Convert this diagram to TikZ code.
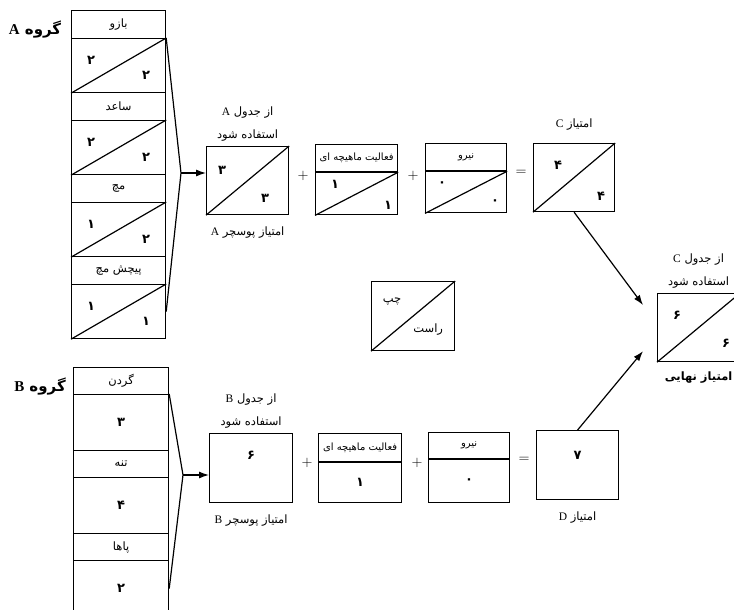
\documentclass[tikz,border=0pt]{standalone}
\usepackage{fontspec}
\setmainfont{Liberation Serif}
\newfontfamily\fa[Script=Arabic]{DejaVu Sans}
\TeXXeTstate=1
\usetikzlibrary{positioning,arrows.meta}
\newcommand{\rtl}[1]{\beginR #1\endR}
\newcommand{\lat}[1]{{\rmfamily #1}}

\begin{document}
\begin{tikzpicture}[x=1pt,y=-1pt,line width=1.2pt,
    every node/.style={font=\fa\fontsize{11.5}{13}\selectfont,inner sep=1pt},
    box/.style={draw,rectangle,inner sep=0pt,anchor=north west,minimum width=#1},
    box/.default=82pt,
    num/.style={font=\fa\bfseries\fontsize{13}{15}\selectfont},
    small/.style={font=\fa\fontsize{10}{12}\selectfont},
    big/.style={font=\fa\bfseries\fontsize{15}{17}\selectfont},
    op/.style={font=\fontsize{15}{17}\selectfont},
    arr/.style={-{Latex[length=10pt,width=7pt]}}]
  \clip (0,0) rectangle (734,610);

  \node[big] (grpA) at (35,30) {\rtl{گروه \lat{A}}};
  \foreach \part/\ul/\lr [count=\i from 0] in {بازو/۲/۲,ساعد/۲/۲,مچ/۱/۲,پیچش مچ/۱/۱}{
    \node[box=94pt,minimum height=28pt] (a\i) at (71,10+82*\i) {\rtl{\part}};
    \node[box=94pt,minimum height=54pt] (as\i) at (71,38+82*\i) {};
    \draw (as\i.south west) -- (as\i.north east);
    \node[num] (au\i) at ([shift={(20pt,-22pt)}]as\i.north west) {\ul};
    \node[num] (al\i) at ([shift={(-20pt,18pt)}]as\i.south east) {\lr};
  }
  \coordinate (tipA) at (181,173);
  \draw (as0.north east) -- (tipA) -- (as3.east);

  \node[box,minimum height=68pt] (sA) at (206,146) {};
  \draw (sA.south west) -- (sA.north east);
  \node[num] (sAu) at ([shift={(16pt,-24pt)}]sA.north west) {۳};
  \node[num] (sAl) at ([shift={(-24pt,17pt)}]sA.south east) {۳};
  \node[above=3pt of sA] (useA) {\rtl{استفاده شود}};
  \node[above=8pt of useA] (tabA) {\rtl{از جدول \lat{A}}};
  \node[below=10pt of sA] (scA) {\rtl{امتیاز پوسچر \lat{A}}};
  \draw[arr] (tipA) -- (tipA -| sA.west);

  \node[op] (p1) at (303,176) {$+$};
  \node[box,minimum height=27pt,small] (mA) at (315,144) {\rtl{فعالیت ماهیچه ای}};
  \node[box,minimum height=42pt,anchor=north] (mAv) at (mA.south) {};
  \draw (mAv.south west) -- (mAv.north east);
  \node[num] (mAu) at ([shift={(20pt,-12pt)}]mAv.north west) {۱};
  \node[num] (mAl) at ([shift={(-10pt,10pt)}]mAv.south east) {۱};

  \node[op] (p2) at (413,176) {$+$};
  \node[box=81pt,minimum height=27pt,small] (fA) at (425,143) {نیرو};
  \node[box=81pt,minimum height=41pt,anchor=north] (fAv) at (fA.south) {};
  \draw (fAv.south west) -- (fAv.north east);
  \node[num] (fAu) at ([shift={(17pt,-13pt)}]fAv.north west) {۰};
  \node[num] (fAl) at ([shift={(-12pt,11pt)}]fAv.south east) {۰};

  \node[op] (e1) at (521,173) {$=$};
  \node[box=81pt,minimum height=68pt] (sC) at (533,143) {};
  \draw (sC.south west) -- (sC.north east);
  \node[num] (sCu) at ([shift={(25pt,-22pt)}]sC.north west) {۴};
  \node[num] (sCl) at ([shift={(-14pt,16pt)}]sC.south east) {۴};
  \node[above=11pt of sC] (scC) {\rtl{امتیاز \lat{C}}};

  \node[box,minimum height=68pt] (fin) at (657,293) {};
  \draw (fin.south west) -- (fin.north east);
  \node[num] (finu) at ([shift={(20pt,-22pt)}]fin.north west) {۶};
  \node[num] (finl) at ([shift={(-14pt,19pt)}]fin.south east) {۶};
  \node[above=3pt of fin] (useC) {\rtl{استفاده شود}};
  \node[above=8pt of useC] (tabC) {\rtl{از جدول \lat{C}}};
  \node[below=8pt of fin,font=\fa\bfseries\fontsize{11.5}{13}\selectfont] (final) {\rtl{امتیاز نهایی}};
  \draw[arr] (sC.south) -- ([shift={(-14pt,-12pt)}]fin.north west);

  \node[box=83pt,minimum height=69pt] (leg) at (371,281) {};
  \draw (leg.south west) -- (leg.north east);
  \node (left) at ([shift={(21pt,-21pt)}]leg.north west) {چپ};
  \node (right) at ([shift={(-27pt,22pt)}]leg.south east) {راست};

  \node[big] (grpB) at (40,387) {\rtl{گروه \lat{B}}};
  \foreach \part/\v [count=\i from 0] in {گردن/۳,تنه/۴,پاها/۲}{
    \node[box=95pt,minimum height=27pt] (b\i) at (73,367+83*\i) {\rtl{\part}};
    \node[box=95pt,minimum height=56pt,num] (bv\i) at (73,394+83*\i) {\v};
  }
  \coordinate (tipB) at (183,475);
  \draw (bv0.north east) -- (tipB) -- (bv2.east);

  \node[box=83pt,minimum height=69pt] (sB) at (209,433) {};
  \node[num] (sBv) at ([yshift=-22pt]sB.north) {۶};
  \node[above=3pt of sB] (useB) {\rtl{استفاده شود}};
  \node[above=8pt of useB] (tabB) {\rtl{از جدول \lat{B}}};
  \node[below=10pt of sB] (scB) {\rtl{امتیاز پوسچر \lat{B}}};
  \draw[arr] (tipB) -- (tipB -| sB.west);

  \node[op] (p3) at (307,463) {$+$};
  \node[box=83pt,minimum height=28pt,small] (mB) at (318,433) {\rtl{فعالیت ماهیچه ای}};
  \node[box=83pt,minimum height=40pt,anchor=north,num] (mBv) at (mB.south) {۱};

  \node[op] (p4) at (417,463) {$+$};
  \node[box=81pt,minimum height=26pt,small] (fB) at (428,432) {نیرو};
  \node[box=81pt,minimum height=43pt,anchor=north,num] (fBv) at (fB.south) {۰};

  \node[op] (e2) at (524,460) {$=$};
  \node[box,minimum height=69pt] (sD) at (536,430) {};
  \node[num] (sDv) at ([yshift=-25pt]sD.north) {۷};
  \node[below=10pt of sD] (scD) {\rtl{امتیاز \lat{D}}};
  \draw[arr] (sD.north) -- ([shift={(-14pt,11pt)}]fin.south west);
\end{tikzpicture}
\end{document}
